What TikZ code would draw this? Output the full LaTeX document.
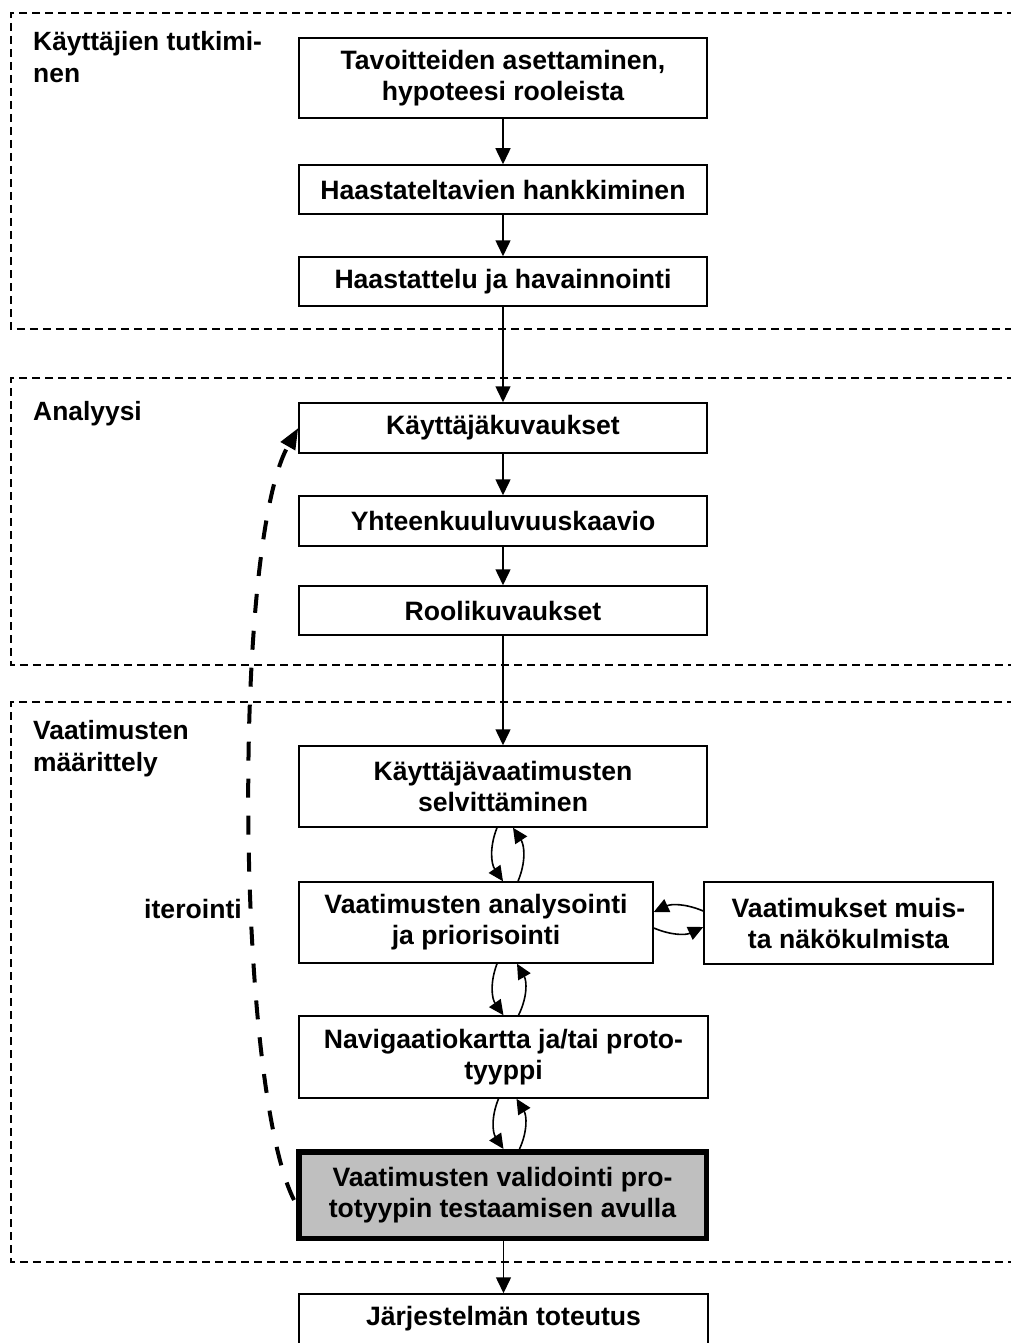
\documentclass[tikz,border=0pt]{standalone}
\usepackage{fontspec}
\setmainfont{Liberation Sans}
\usetikzlibrary{arrows.meta,calc}
\begin{document}
\begin{tikzpicture}[x=1pt,y=-1pt,
  box/.style={draw,line width=1.5pt,minimum width=408pt,align=center,inner sep=0pt,
    font=\bfseries\fontsize{26.6}{31}\selectfont},
  grp/.style={draw,line width=1.3pt,dash pattern=on 8pt off 5pt},
  lbl/.style={anchor=north west,inner sep=0pt,align=left,font=\bfseries\fontsize{26.4}{32}\selectfont},
  arr/.style={line width=1.5pt,-{Triangle[length=16pt,width=15pt]}},
  carr/.style={line width=1.6pt,-{Triangle[length=15pt,width=14pt]}}
]
\useasboundingbox (0,0) rectangle (1010,1343);
% groups
\draw[grp] (1015,13) -- (11,13) -- (11,329) -- (1015,329);
\draw[grp] (1015,378) -- (11,378) -- (11,665) -- (1015,665);
\draw[grp] (1015,702) -- (11,702) -- (11,1262) -- (1015,1262);
\node[lbl] (g1) at (33,31) {Käyttäjien tutkimi-\\nen};
\node[lbl] (g2) at (33,401) {Analyysi};
\node[lbl] (g3) at (33,720) {Vaatimusten\\määrittely};
% boxes
\node[box,minimum height=80pt] (b1) at (503,78) {Tavoitteiden asettaminen,\\hypoteesi rooleista};
\node[box,minimum height=49pt] (b2) at (503,189.5) {Haastateltavien hankkiminen};
\node[box,minimum height=49pt] (b3) at (503,281.5) {Haastattelu ja havainnointi};
\node[box,minimum height=50pt] (b4) at (503,428) {Käyttäjäkuvaukset};
\node[box,minimum height=50pt] (b5) at (503,521) {Yhteenkuuluvuuskaavio};
\node[box,minimum height=49pt] (b6) at (503,610.5) {Roolikuvaukset};
\node[box,minimum height=81pt] (b7) at (503,786.5) {Käyttäjävaatimusten\\selvittäminen};
\node[box,minimum width=354pt,minimum height=81pt] (b8) at (476,922.5) {Vaatimusten analysointi\\ja priorisointi};
\node[box,minimum width=289pt,minimum height=82pt] (b9) at (848.5,923) {Vaatimukset muis-\\ta näkökulmista};
\node[box,minimum width=409pt,minimum height=82pt] (b10) at (503.5,1057) {Navigaatiokartta ja/tai proto-\\tyyppi};
\node[box,fill=black!25,line width=5.5pt,minimum width=407.5pt,minimum height=86.5pt] (b11) at (502.5,1195) {Vaatimusten validointi pro-\\totyypin testaamisen avulla};
\node[box,minimum width=409pt,minimum height=50pt] (b12) at (503.5,1319) {Järjestelmän toteutus};
\node[inner sep=0pt,font=\bfseries\fontsize{26.6}{31}\selectfont] (it) at (193,909) {iterointi};
% straight arrows
\draw[arr] (b1) -- (b2);
\draw[arr] (b2) -- (b3);
\draw[arr] (b3) -- (b4);
\draw[arr] (b4) -- (b5);
\draw[arr] (b5) -- (b6);
\draw[arr] (b6) -- (b7);
\draw[arr] (b11.south -| b12.north) -- (b12.north);
% curved pairs
\draw[carr] ($(b7.south)+(-6,0)$) to[bend right=28] ($(b8.north)+(27,0)$);
\draw[carr] ($(b8.north)+(42,0)$) to[bend right=28] ($(b7.south)+(10,0)$);
\draw[carr] ($(b8.south)+(21,0)$) to[bend right=28] ($(b10.north)+(0,0)$);
\draw[carr] ($(b10.north)+(15,0)$) to[bend right=28] ($(b8.south)+(41,0)$);
\draw[carr] ($(b10.south)+(-5,0)$) to[bend right=28] ($(b11.north)+(1,0)$);
\draw[carr] ($(b11.north)+(17,0)$) to[bend right=28] ($(b10.south)+(13,0)$);
\draw[carr] ($(b9.west)+(0,-12)$) to[bend right=24] ($(b8.east)+(0,-10.5)$);
\draw[carr] ($(b8.east)+(0,5.5)$) to[bend right=24] ($(b9.west)+(0,4)$);
% iteration
\draw[line width=4pt,dash pattern=on 19pt off 18pt,-{Triangle[length=21pt,width=16pt]}]
  ($(b11.west)+(-2,5)$) .. controls (236,1085) and (232,544) .. (b4.west);
\end{tikzpicture}
\end{document}
